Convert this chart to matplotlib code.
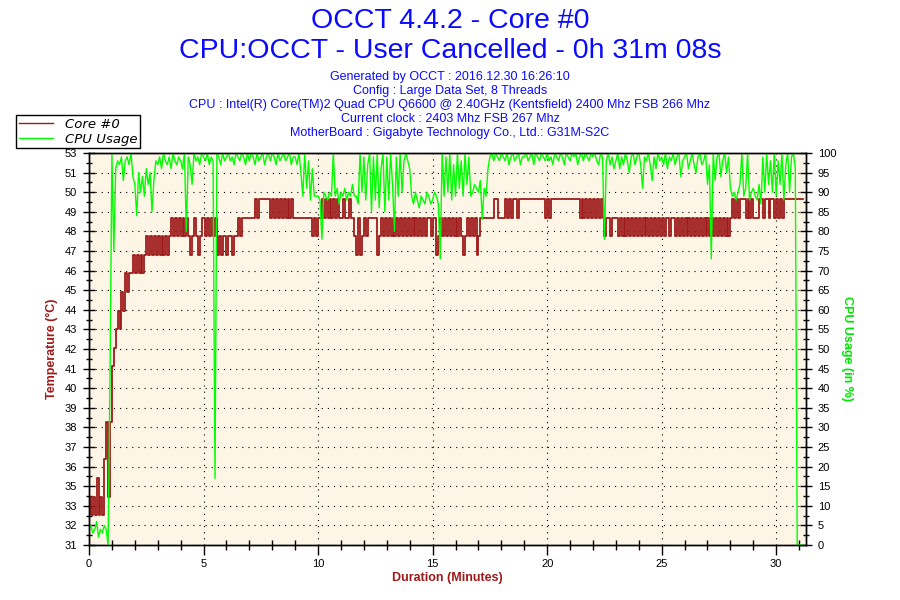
import numpy as np
import matplotlib.pyplot as plt
from matplotlib.ticker import MultipleLocator, FixedLocator
from matplotlib.lines import Line2D

plt.rcParams['font.family'] = ['Liberation Sans', 'DejaVu Sans']

# one sample every 5 seconds, one row = one minute
step_min = 5 / 60.0

core_temp = [
    34, 33, 34, 33, 35, 33, 34, 33, 36, 38, 34, 38,   # 0
    41, 42, 43, 44, 43, 45, 44, 46, 45, 46, 46, 47,   # 1
    46, 47, 46, 47, 46, 47, 48, 47, 48, 47, 48, 47,   # 2
    48, 47, 48, 47, 48, 47, 48, 49, 48, 49, 48, 49,   # 3
    48, 49, 48, 49, 48, 47, 48, 49, 48, 47, 48, 49,   # 4
    49, 48, 49, 48, 49, 48, 49, 47, 48, 47, 48, 48,   # 5
    47, 48, 48, 47, 48, 48, 49, 48, 49, 49, 49, 49,   # 6
    49, 49, 49, 50, 49, 50, 50, 50, 50, 50, 50, 49,   # 7
    50, 49, 50, 49, 50, 49, 50, 49, 50, 49, 50, 49,   # 8
    49, 49, 49, 49, 49, 49, 49, 49, 49, 48, 49, 48,   # 9
    49, 49, 50, 49, 50, 49, 50, 49, 50, 49, 50, 49,   # 10
    49, 50, 49, 49, 50, 49, 49, 48, 47, 49, 47, 48,   # 11
    49, 48, 49, 49, 49, 49, 49, 47, 48, 49, 48, 49,   # 12
    48, 49, 48, 49, 48, 49, 48, 49, 48, 49, 48, 49,   # 13
    48, 49, 48, 49, 48, 49, 48, 49, 48, 49, 49, 48,   # 14
    49, 49, 47, 48, 49, 48, 49, 48, 49, 48, 49, 48,   # 15
    49, 48, 49, 48, 47, 48, 49, 48, 49, 48, 49, 47,   # 16
    48, 49, 49, 49, 49, 49, 49, 49, 50, 50, 49, 49,   # 17
    49, 49, 50, 49, 50, 49, 50, 50, 49, 50, 50, 50,   # 18
    50, 50, 50, 50, 50, 50, 50, 50, 50, 50, 50, 49,   # 19
    50, 49, 50, 50, 50, 50, 50, 50, 50, 50, 50, 50,   # 20
    50, 50, 50, 50, 50, 49, 50, 49, 50, 49, 50, 49,   # 21
    50, 49, 50, 49, 50, 49, 48, 49, 49, 48, 49, 49,   # 22
    49, 48, 49, 48, 49, 48, 49, 48, 49, 48, 49, 48,   # 23
    49, 48, 49, 48, 49, 48, 49, 48, 49, 48, 49, 48,   # 24
    49, 48, 49, 49, 48, 49, 49, 48, 49, 48, 49, 48,   # 25
    49, 48, 49, 48, 49, 48, 49, 48, 49, 48, 49, 48,   # 26
    49, 48, 49, 48, 49, 48, 49, 48, 49, 48, 49, 48,   # 27
    49, 50, 49, 50, 49, 50, 50, 50, 49, 50, 49, 50,   # 28
    49, 49, 49, 50, 50, 49, 50, 50, 49, 50, 50, 49,   # 29
    50, 49, 50, 49, 50, 50, 50, 50, 50, 50, 50, 50,   # 30
    50, 50, 50,                                       # 31
]

cpu_usage = [
    4, 5, 3, 4, 6, 2, 4, 3, 5, 4, 0, 42,                       # 0
    100, 75, 96, 98, 97, 99, 93, 98, 99, 97, 100, 94,          # 1
    92, 84, 95, 90, 94, 89, 96, 92, 95, 85, 93, 98,            # 2
    97, 99, 96, 100, 98, 97, 99, 96, 100, 98, 97, 99,          # 3
    98, 96, 100, 80, 99, 97, 92, 100, 98, 99, 97, 100,         # 4
    99, 98, 100, 97, 99, 98, 17, 100, 99, 97, 100, 98,         # 5
    99, 100, 98, 99, 97, 100, 99, 98, 100, 99, 97, 100,        # 6
    98, 100, 99, 97, 100, 98, 99, 100, 97, 99, 100, 98,        # 7
    100, 99, 97, 100, 98, 99, 100, 98, 99, 100, 97, 99,        # 8
    99, 97, 100, 95, 89, 100, 91, 98, 88, 96, 89, 89,          # 9
    89, 88, 78, 90, 89, 88, 90, 89, 100, 89, 91, 87,           # 10
    90, 89, 91, 88, 90, 89, 92, 89, 89, 87, 100, 90,           # 11
    99, 88, 97, 100, 85, 99, 88, 100, 86, 96, 100, 85,         # 12
    99, 88, 100, 92, 80, 99, 89, 100, 90, 98, 100, 98,         # 13
    96, 89, 87, 90, 88, 86, 89, 88, 87, 90, 89, 87,            # 14
    88, 90, 89, 87, 73, 100, 89, 99, 90, 100, 88, 97,          # 15
    89, 100, 91, 98, 89, 100, 92, 99, 89, 90, 92, 91,          # 16
    90, 93, 83, 91, 89, 96, 99, 100, 98, 100, 99, 98,          # 17
    100, 99, 98, 100, 97, 99, 100, 98, 99, 100, 97, 99,        # 18
    99, 100, 98, 99, 100, 97, 100, 99, 98, 100, 99, 98,        # 19
    100, 98, 99, 97, 100, 99, 98, 100, 99, 97, 100, 99,        # 20
    98, 100, 99, 100, 97, 99, 100, 98, 100, 99, 98, 100,       # 21
    99, 100, 98, 97, 100, 99, 78, 98, 100, 97, 99, 96,         # 22
    98, 100, 96, 99, 97, 100, 98, 95, 99, 100, 97, 99,         # 23
    100, 97, 91, 99, 98, 100, 97, 93, 99, 96, 100, 98,         # 24
    99, 97, 100, 96, 99, 98, 100, 97, 99, 100, 94, 98,         # 25
    99, 100, 96, 98, 100, 97, 95, 99, 100, 97, 98, 100,        # 26
    92, 97, 73, 100, 93, 99, 100, 94, 98, 100, 95, 99,         # 27
    91, 89, 90, 88, 90, 92, 100, 89, 91, 100, 88, 90,          # 28
    91, 89, 88, 92, 87, 99, 90, 100, 92, 98, 90, 100,          # 29
    89, 98, 92, 100, 88, 97, 100, 90, 99, 100, 96, 0,          # 30
    0, 0, 0,                                                   # 31
]

temp_tick_labels = ['31', '32', '33', '35', '36', '37', '38', '39', '40', '41', '42',
                    '43', '44', '45', '46', '47', '48', '49', '50', '51', '53']

t_temp = np.arange(len(core_temp)) * step_min
t_cpu = np.arange(len(cpu_usage)) * step_min

red = '#9e1a1a'
green = '#00ff00'
blue = '#0a0aff'
temp_lo, temp_hi = 31.4, 52.47

fig = plt.figure(figsize=(9, 6), dpi=100)
ax = fig.add_axes([89 / 900, 1 - 545 / 600, 717 / 900, 392 / 600])
ax.set_facecolor('#fdf5e6')
ax2 = ax.twinx()

ax.plot(t_temp, core_temp, color=red, lw=1.3, drawstyle='steps-post')
ax2.plot(t_cpu, cpu_usage, color=green, lw=1.0)

ax.set_xlim(0, 31.3)
ax.set_ylim(temp_lo, temp_hi)
ax2.set_ylim(0, 100)

temp_ticks = np.linspace(temp_lo, temp_hi, len(temp_tick_labels))
ax.yaxis.set_major_locator(FixedLocator(temp_ticks))
ax.set_yticklabels(temp_tick_labels)
ax.yaxis.set_minor_locator(FixedLocator((temp_ticks[:-1] + temp_ticks[1:]) / 2))
ax.xaxis.set_major_locator(MultipleLocator(5))
ax.xaxis.set_minor_locator(MultipleLocator(1))
ax2.yaxis.set_major_locator(MultipleLocator(5))
ax2.yaxis.set_minor_locator(MultipleLocator(2.5))

ax.grid(True, which='major', color='black', lw=0.8, linestyle=(0, (1, 4.5)))

ax.tick_params(axis='y', which='major', direction='inout', length=9, width=1, labelsize=8, pad=4)
ax.tick_params(axis='y', which='minor', direction='inout', length=5, width=1)
ax.tick_params(axis='x', which='major', direction='out', length=7, width=1, labelsize=8, pad=3)
ax.tick_params(axis='x', which='minor', direction='inout', length=7, width=1)
ax2.tick_params(axis='y', which='major', direction='inout', length=9, width=1, labelsize=8, pad=4)
ax2.tick_params(axis='y', which='minor', direction='inout', length=5, width=1)

for a in (ax, ax2):
    for s in a.spines.values():
        s.set_color('black')
        s.set_linewidth(1)

ax.set_xlabel('Duration (Minutes)', color=red, fontweight='bold', fontsize=9, labelpad=2)
ax.set_ylabel('Temperature (°C)', color=red, fontweight='bold', fontsize=9, labelpad=5)
ax2.set_ylabel('CPU Usage (in %)', color='#00e600', fontweight='bold', fontsize=9,
               rotation=270, labelpad=12)

title_font = ['Liberation Sans Narrow', 'Liberation Sans', 'DejaVu Sans']
fig.text(0.5, 1 - 21 / 600, 'OCCT 4.4.2 - Core #0', ha='center', va='center',
         fontsize=20.5, color=blue, family=title_font)
fig.text(0.5, 1 - 51 / 600, 'CPU:OCCT - User Cancelled - 0h 31m 08s', ha='center', va='center',
         fontsize=20.5, color=blue, family=title_font)
sub_lines = ['Generated by OCCT : 2016.12.30 16:26:10',
             'Config : Large Data Set, 8 Threads',
             'CPU : Intel(R) Core(TM)2 Quad CPU Q6600 @ 2.40GHz (Kentsfield) 2400 Mhz FSB 266 Mhz',
             'Current clock : 2403 Mhz FSB 267 Mhz',
             'MotherBoard : Gigabyte Technology Co., Ltd.: G31M-S2C']
for i, line in enumerate(sub_lines):
    fig.text(0.5, 1 - (77 + 14 * i) / 600, line, ha='center', va='center',
             fontsize=9, color=blue, family=title_font)

handles = [Line2D([], [], color=red, lw=1), Line2D([], [], color=green, lw=1)]
leg = fig.legend(handles, ['Core #0', 'CPU Usage'], loc='upper left',
                 bbox_to_anchor=(16 / 900, 1 - 115 / 600), fancybox=False,
                 edgecolor='black', framealpha=1, handlelength=2.6, handletextpad=0.9,
                 labelspacing=0.15, borderpad=0.2, borderaxespad=0,
                 prop={'style': 'italic', 'size': 9.5, 'family': ['DejaVu Sans']})
leg.get_frame().set_linewidth(1)

fig.savefig('out.png', dpi=100)
